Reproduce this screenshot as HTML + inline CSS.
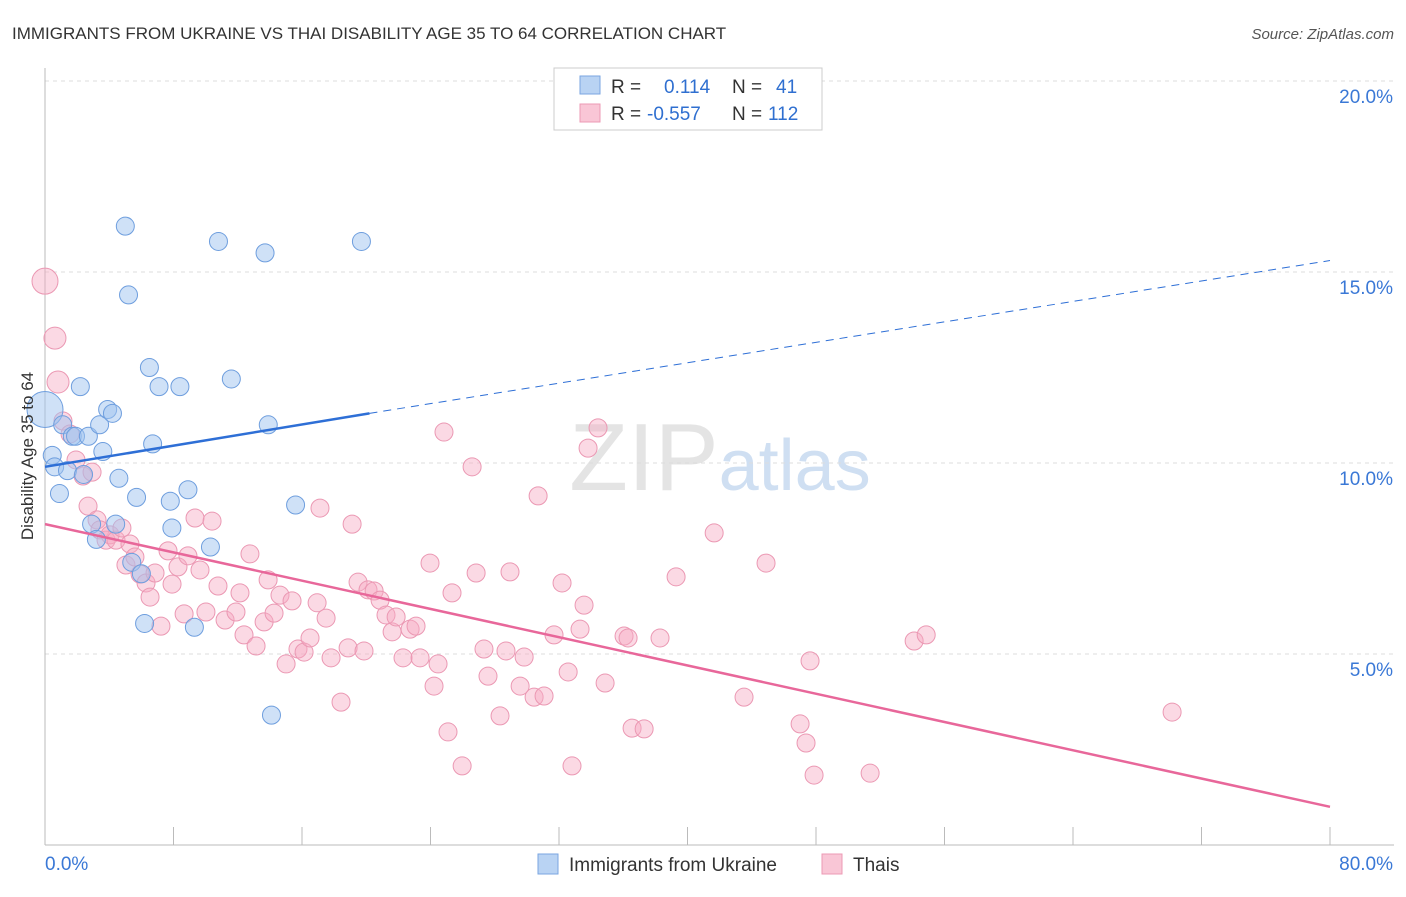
<!DOCTYPE html>
<html><head><meta charset="utf-8"><style>
body{margin:0;background:#fff;font-family:"Liberation Sans",sans-serif;}
svg text{font-family:"Liberation Sans",sans-serif;}
</style></head><body>
<svg id="chart" width="1406" height="892" xmlns="http://www.w3.org/2000/svg">
<text x="12" y="39" font-size="17" fill="#333">IMMIGRANTS FROM UKRAINE VS THAI DISABILITY AGE 35 TO 64 CORRELATION CHART</text>
<text x="1394" y="39" font-size="15" fill="#555" text-anchor="end" font-style="italic">Source: ZipAtlas.com</text>
<text x="720" y="490" font-size="96" fill="#e4e4e4" text-anchor="middle" font-family="Liberation Serif">ZIP<tspan fill="#cfdff2" font-family="Liberation Sans" font-size="72">atlas</tspan></text>
<g id="grid"></g><g id="axes"></g><g id="marks"></g>
<text transform="translate(33,456) rotate(-90)" font-size="17" fill="#333" text-anchor="middle">Disability Age 35 to 64</text>
<g>
<rect x="554" y="68" width="268" height="62" fill="#fff" stroke="#ccc"/>
<rect x="580" y="76" width="20" height="18" fill="#b9d3f3" stroke="#7aa6e0"/>
<rect x="580" y="104" width="20" height="18" fill="#f9c6d6" stroke="#ec9ab4"/>
<text x="611" y="93" font-size="19" fill="#333">R =</text><text x="664" y="93" font-size="19" fill="#2f6fd0">0.114</text>
<text x="732" y="93" font-size="19" fill="#333">N =</text><text x="776" y="93" font-size="19" fill="#2f6fd0">41</text>
<text x="611" y="120" font-size="19" fill="#333">R =</text><text x="647" y="120" font-size="19" fill="#2f6fd0">-0.557</text>
<text x="732" y="120" font-size="19" fill="#333">N =</text><text x="768" y="120" font-size="19" fill="#2f6fd0">112</text>
</g>
<g>
<rect x="538" y="854" width="20" height="20" fill="#b9d3f3" stroke="#7aa6e0"/>
<text x="569" y="871" font-size="19" fill="#333">Immigrants from Ukraine</text>
<rect x="822" y="854" width="20" height="20" fill="#f9c6d6" stroke="#ec9ab4"/>
<text x="853" y="871" font-size="19" fill="#333">Thais</text>
</g>
</svg>
<script>
const yTicks=[5,10,15,20];
const yTickLabels=["5.0%","10.0%","15.0%","20.0%"];
const xEndLabels=["0.0%","80.0%"];
const blueX=[0,0.45,0.6,0.9,1.1,1.4,1.7,1.9,2.2,2.4,2.7,2.9,3.2,3.4,3.6,3.9,4.2,4.4,4.6,5.0,5.2,5.4,5.7,6.0,6.2,6.5,6.7,7.1,7.8,7.9,8.4,8.9,9.3,10.3,10.8,11.6,13.7,13.9,14.1,15.6,19.7];
const blueY=[11.4,10.2,9.9,9.2,11.0,9.8,10.7,10.7,12.0,9.7,10.7,8.4,8.0,11.0,10.3,11.4,11.3,8.4,9.6,16.2,14.4,7.4,9.1,7.1,5.8,12.5,10.5,12.0,9.0,8.3,12.0,9.3,5.7,7.8,15.8,12.2,15.5,11.0,3.4,8.9,15.8];
const blueR=[18,9,9,9,9,9,9,9,9,9,9,9,9,9,9,9,9,9,9,9,9,9,9,9,9,9,9,9,9,9,9,9,9,9,9,9,9,9,9,9,9];
const pinkX=[0,0.62,0.81,1.12,1.56,1.93,2.37,2.68,2.93,3.24,3.42,3.80,4.05,4.42,4.79,5.04,5.29,5.60,5.92,6.29,6.54,6.85,7.22,7.66,7.91,8.28,8.66,8.90,9.34,9.65,10.02,10.40,10.77,11.21,11.89,12.14,12.39,12.76,13.14,13.64,13.89,14.26,14.63,15.01,15.38,15.75,16.13,16.50,16.94,17.12,17.50,17.81,18.43,18.87,19.12,19.49,19.86,20.11,20.49,20.86,21.23,21.61,21.86,22.29,22.73,23.10,23.35,23.97,24.22,24.47,24.84,25.09,25.34,25.97,26.59,26.84,27.33,27.58,28.33,28.70,28.95,29.58,29.83,30.45,30.70,31.07,31.69,32.19,32.57,32.81,33.31,33.56,33.81,34.43,34.87,36.05,36.30,36.55,37.30,38.29,39.29,41.66,43.52,44.89,47.01,47.38,47.63,47.88,51.37,54.11,54.86,70.17];
const pinkY=[14.76,13.27,12.12,11.10,10.76,10.08,9.66,8.87,9.76,8.51,8.25,7.98,8.12,7.98,8.30,7.33,7.88,7.54,7.09,6.86,6.49,7.12,5.73,7.70,6.83,7.28,6.05,7.57,8.56,7.20,6.10,8.48,6.78,5.89,6.10,6.60,5.50,7.62,5.21,5.84,6.94,6.07,6.54,4.74,6.39,5.13,5.05,5.42,6.34,8.82,5.94,4.90,3.74,5.16,8.40,6.88,5.08,6.68,6.65,6.41,6.02,5.58,5.97,4.90,5.65,5.73,4.90,7.38,4.16,4.74,10.81,2.96,6.60,2.07,9.90,7.12,5.13,4.42,3.38,5.08,7.15,4.16,4.92,3.87,9.14,3.90,5.50,6.86,4.53,2.07,5.65,6.28,10.39,10.92,4.24,5.47,5.42,3.06,3.04,5.42,7.02,8.17,3.87,7.38,3.17,2.67,4.82,1.83,1.88,5.34,5.50,3.48];
const pinkR=pinkX.map((v,i)=>i===0?13:(i<3?11:9));
const blueLine=[[0,9.9],[20.2,11.3],[80,15.3]];
const pinkLine=[[0,8.4],[80,1.0]];
const NS="http://www.w3.org/2000/svg";
const X0=45,X1=1330,Y0=845,Y1=81;
const xs=v=>X0+v/80*(X1-X0);
const ys=v=>Y0-v/20*(Y0-Y1);
function mk(tag,attrs,parent){const e=document.createElementNS(NS,tag);for(const k in attrs)e.setAttribute(k,attrs[k]);parent.appendChild(e);return e;}
const grid=document.getElementById('grid'),axes=document.getElementById('axes'),marks=document.getElementById('marks');
yTicks.forEach((t,i)=>{
 const l=mk('line',{x1:X0,x2:1394,y1:ys(t),y2:ys(t),stroke:'#ddd','stroke-dasharray':'4,4'},grid);
 
 
 const tx=mk('text',{x:1393,y:ys(t)+22,'font-size':19,fill:'#3a78d6','text-anchor':'end'},axes);
 tx.textContent=yTickLabels[i];
 
 
});
const ax=mk('line',{x1:X0,x2:1394,y1:Y0,y2:Y0,stroke:'#bbb'},axes);


const ay=mk('line',{x1:X0,x2:X0,y1:68,y2:Y0,stroke:'#bbb'},axes);


for(let i=1;i<=10;i++){const t=mk('line',{x1:xs(i*8),x2:xs(i*8),y1:Y0,y2:Y0-18,stroke:'#bbb'},axes);
 
 }
xEndLabels.forEach((s,i)=>{const t=mk('text',{x:i?1393:45,y:870,'font-size':19,fill:'#3a78d6','text-anchor':i?'end':'start'},axes);t.textContent=s;
 
 });
pinkX.forEach((v,i)=>{const c=mk('circle',{cx:xs(v),cy:ys(pinkY[i]),r:pinkR[i],fill:'rgba(246,170,196,0.45)',stroke:'#eb98b3','stroke-width':1},marks);
 
 });
blueX.forEach((v,i)=>{const c=mk('circle',{cx:xs(v),cy:ys(blueY[i]),r:blueR[i],fill:'rgba(160,196,240,0.5)',stroke:'#6e9ede','stroke-width':1},marks);
 
 });
const b1=mk('line',{x1:xs(blueLine[0][0]),y1:ys(blueLine[0][1]),x2:xs(blueLine[1][0]),y2:ys(blueLine[1][1]),stroke:'#2e6fd6','stroke-width':2.5},marks);


const b2=mk('line',{x1:xs(blueLine[1][0]),y1:ys(blueLine[1][1]),x2:xs(blueLine[2][0]),y2:ys(blueLine[2][1]),stroke:'#2e6fd6','stroke-width':1,'stroke-dasharray':'8,6'},marks);


const p1=mk('line',{x1:xs(pinkLine[0][0]),y1:ys(pinkLine[0][1]),x2:xs(pinkLine[1][0]),y2:ys(pinkLine[1][1]),stroke:'#e8679a','stroke-width':2.5},marks);


</script>
</body></html>
